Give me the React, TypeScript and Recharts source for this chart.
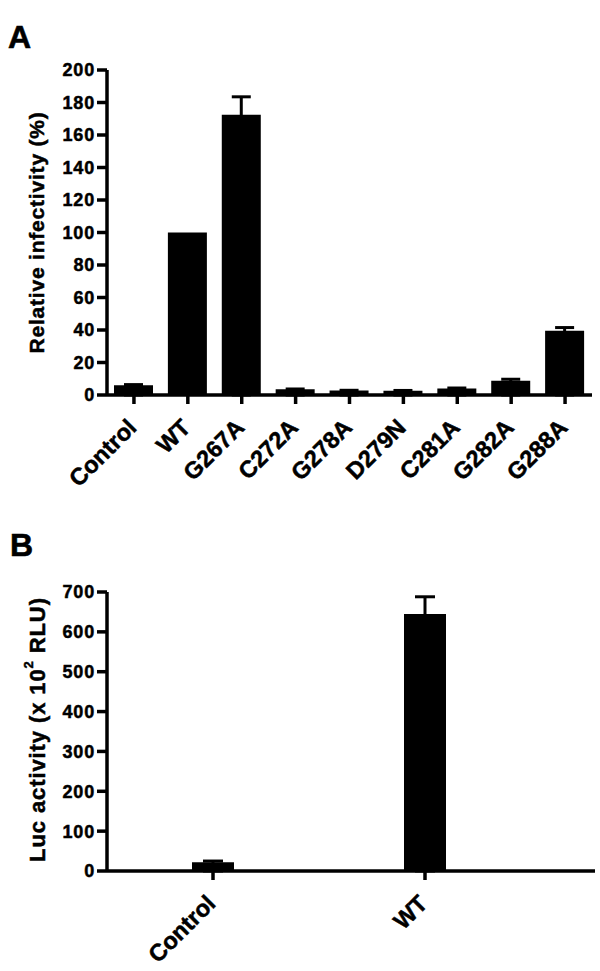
import React from 'react';
import { BarChart, Bar, XAxis, YAxis, ErrorBar } from 'recharts';

const FONT = '"Liberation Sans", Arial, Helvetica, sans-serif';

// Panel A data
const categoriesA = ['Control', 'WT', 'G267A', 'C272A', 'G278A', 'D279N', 'C281A', 'G282A', 'G288A'];
const infectivity = [6, 100, 172.5, 3.5, 2.7, 2.6, 4, 8.8, 39.5];
const infectivityErr: (number | null)[] = [0.4, null, 11, 0.2, 0.2, 0.2, 0.3, 0.9, 2];
const ticksA = [0, 20, 40, 60, 80, 100, 120, 140, 160, 180, 200];

// Panel B data
const categoriesB = ['Control', 'WT'];
const lucActivity = [22, 645];
const lucErr = [3, 43];
const ticksB = [0, 100, 200, 300, 400, 500, 600, 700];

// only the upper whisker is visible (SEM drawn upward); lower whisker hidden inside the bar
const dataA = categoriesA.map((name, i) => ({
  name,
  value: infectivity[i],
  err: infectivityErr[i] == null ? null : [infectivity[i], infectivityErr[i]],
}));
const dataB = categoriesB.map((name, i) => ({ name, value: lucActivity[i], err: [lucActivity[i], lucErr[i]] }));

const AXIS = { stroke: '#000', strokeWidth: 3.5 };

const XTick = (props: any) => {
  const { x, y, payload } = props;
  const ax = x + 4;
  const ay = y + 25;
  return (
    <text
      x={ax}
      y={ay}
      textAnchor="end"
      transform={`rotate(-45, ${ax}, ${ay})`}
      fontFamily={FONT}
      fontWeight="bold"
      fontSize={23.5}
      stroke="#000"
      strokeWidth={0.5}
      fill="#000"
    >
      {payload.value}
    </text>
  );
};

const YTick = (props: any) => {
  const { x, y, payload } = props;
  return (
    <text
      x={x}
      y={y}
      dy="0.36em"
      textAnchor="end"
      fontFamily={FONT}
      fontWeight="bold"
      fontSize={18}
      letterSpacing={0.8}
      stroke="#000"
      strokeWidth={0.5}
      fill="#000"
    >
      {payload.value}
    </text>
  );
};

const YLabelA = (props: any) => {
  const vb = props.viewBox || { y: 70, height: 325 };
  const cx = 43.5;
  const cy = vb.y + vb.height / 2;
  return (
    <text
      x={cx}
      y={cy}
      transform={`rotate(-90, ${cx}, ${cy})`}
      textAnchor="middle"
      fontFamily={FONT}
      fontWeight="bold"
      fontSize={21}
      letterSpacing={0.8}
      stroke="#000"
      strokeWidth={0.5}
      fill="#000"
    >
      Relative infectivity (%)
    </text>
  );
};

const YLabelB = (props: any) => {
  const vb = props.viewBox || { y: 72, height: 279 };
  const cx = 45;
  const cy = vb.y + vb.height / 2 - 2;
  return (
    <text
      x={cx}
      y={cy}
      transform={`rotate(-90, ${cx}, ${cy})`}
      textAnchor="middle"
      fontFamily={FONT}
      fontWeight="bold"
      fontSize={22}
      letterSpacing={0.9}
      stroke="#000"
      strokeWidth={0.5}
      fill="#000"
    >
      <tspan>Luc activity (x 10</tspan>
      <tspan dy={-12} fontSize={13}>2</tspan>
      <tspan dy={12}> RLU)</tspan>
    </text>
  );
};

const panelLetter: React.CSSProperties = {
  position: 'absolute',
  fontFamily: FONT,
  fontWeight: 'bold',
  fontSize: 32,
  lineHeight: '32px',
  color: '#000',
  WebkitTextStroke: '0.6px #000',
};

export default function App() {
  return (
    <div style={{ position: 'absolute', left: 0, top: 0, width: 600, height: 971, background: '#fff' }}>
      <div style={{ ...panelLetter, left: 8, top: 21 }}>A</div>
      <div style={{ ...panelLetter, left: 10, top: 529 }}>B</div>

      <div style={{ position: 'absolute', left: 0, top: 0 }}>
        <BarChart width={600} height={500} data={dataA} margin={{ top: 70, right: 8, left: 10, bottom: 10 }}>
          <XAxis
            dataKey="name"
            interval={0}
            height={95}
            tickSize={9}
            tickMargin={0}
            tick={<XTick />}
            axisLine={AXIS}
            tickLine={AXIS}
          />
          <YAxis
            width={97}
            domain={[0, 200]}
            ticks={ticksA}
            interval={0}
            tickSize={10}
            tickMargin={2}
            tick={<YTick />}
            axisLine={AXIS}
            tickLine={AXIS}
            label={<YLabelA />}
          />
          <Bar dataKey="value" fill="#000" barSize={39} isAnimationActive={false}>
            <ErrorBar dataKey="err" width={9.5} stroke="#000" strokeWidth={3} isAnimationActive={false} />
          </Bar>
        </BarChart>
      </div>

      <div style={{ position: 'absolute', left: 0, top: 520 }}>
        <BarChart width={600} height={451} data={dataB} margin={{ top: 72, right: 5, left: 10, bottom: 10 }}>
          <XAxis
            dataKey="name"
            interval={0}
            height={90}
            tickSize={9}
            tickMargin={0}
            padding={{ left: 0, right: 64 }}
            tick={<XTick />}
            axisLine={AXIS}
            tickLine={AXIS}
          />
          <YAxis
            width={97}
            domain={[0, 700]}
            ticks={ticksB}
            interval={0}
            tickSize={10}
            tickMargin={2}
            tick={<YTick />}
            axisLine={AXIS}
            tickLine={AXIS}
            label={<YLabelB />}
          />
          <Bar dataKey="value" fill="#000" barSize={42} isAnimationActive={false}>
            <ErrorBar dataKey="err" width={10} stroke="#000" strokeWidth={3} isAnimationActive={false} />
          </Bar>
        </BarChart>
      </div>
    </div>
  );
}
